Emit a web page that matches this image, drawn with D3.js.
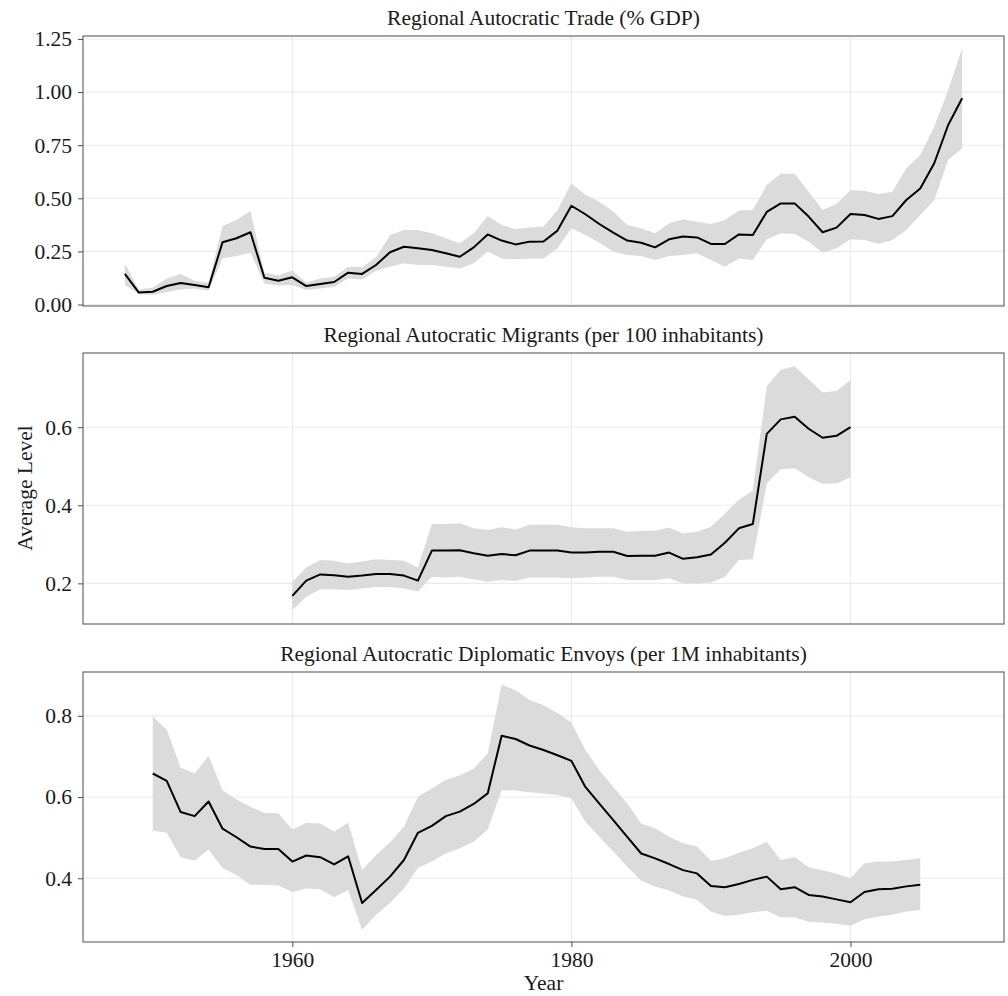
<!DOCTYPE html>
<html>
<head>
<meta charset="utf-8">
<script src="https://cdn.jsdelivr.net/npm/d3@7"></script>
<style>
  body { margin: 0; background: #fff; }
  svg text { font-family: "Liberation Serif", "Times New Roman", serif; fill: #1a1a1a; }
</style>
</head>
<body>
<svg id="chart" width="1008" height="996"></svg>
<script>
// trade (% GDP), 1948-2008
const tradeYears = d3.range(1948, 2009);
const tradeMean = [0.144,0.056,0.060,0.087,0.101,0.092,0.081,0.293,0.312,0.340,
  0.126,0.112,0.128,0.087,0.097,0.106,0.150,0.144,0.186,0.246,
  0.272,0.265,0.257,0.241,0.225,0.269,0.330,0.301,0.283,0.296,
  0.297,0.348,0.465,0.425,0.379,0.338,0.301,0.291,0.269,0.307,
  0.320,0.316,0.285,0.285,0.330,0.327,0.436,0.476,0.476,0.414,
  0.340,0.362,0.426,0.421,0.403,0.416,0.492,0.546,0.665,0.845,0.971];
const tradeLow = [0.092,0.050,0.045,0.059,0.071,0.075,0.065,0.217,0.228,0.244,
  0.098,0.090,0.092,0.068,0.075,0.084,0.123,0.118,0.159,0.178,
  0.194,0.186,0.186,0.178,0.170,0.194,0.249,0.217,0.213,0.217,
  0.217,0.265,0.359,0.327,0.291,0.249,0.233,0.228,0.210,0.228,
  0.233,0.241,0.210,0.178,0.217,0.210,0.307,0.335,0.332,0.296,
  0.244,0.265,0.307,0.304,0.285,0.304,0.351,0.421,0.492,0.680,0.736];
const tradeHigh = [0.194,0.071,0.080,0.123,0.144,0.112,0.103,0.370,0.398,0.440,
  0.150,0.137,0.160,0.103,0.122,0.131,0.178,0.175,0.222,0.327,
  0.351,0.351,0.335,0.312,0.288,0.335,0.417,0.374,0.354,0.362,
  0.367,0.445,0.571,0.516,0.484,0.437,0.374,0.359,0.335,0.382,
  0.401,0.390,0.379,0.398,0.442,0.445,0.563,0.615,0.615,0.531,
  0.445,0.473,0.539,0.534,0.520,0.531,0.641,0.704,0.837,1.010,1.206];

// migrants (per 100 inhabitants), 1960-2000
const migYears = d3.range(1960, 2001);
const migMean = [0.168,0.207,0.223,0.221,0.217,0.220,0.224,0.224,0.220,0.207,
  0.284,0.284,0.285,0.277,0.271,0.275,0.272,0.284,0.284,0.284,
  0.279,0.279,0.281,0.281,0.270,0.271,0.271,0.279,0.263,0.267,
  0.274,0.304,0.341,0.352,0.583,0.620,0.627,0.596,0.573,0.578,0.600];
const migLow = [0.132,0.166,0.185,0.185,0.183,0.187,0.191,0.191,0.187,0.179,
  0.217,0.215,0.217,0.210,0.204,0.209,0.206,0.215,0.215,0.215,
  0.213,0.215,0.217,0.217,0.209,0.209,0.209,0.213,0.200,0.200,
  0.202,0.217,0.260,0.262,0.456,0.492,0.495,0.472,0.455,0.456,0.472];
const migHigh = [0.204,0.241,0.260,0.258,0.251,0.256,0.262,0.260,0.258,0.241,
  0.352,0.352,0.354,0.341,0.337,0.344,0.338,0.350,0.350,0.350,
  0.344,0.341,0.341,0.341,0.332,0.334,0.335,0.343,0.328,0.332,
  0.345,0.379,0.414,0.438,0.704,0.747,0.756,0.723,0.689,0.693,0.720];

// diplomatic envoys (per 1M inhabitants), 1950-2005
const envYears = d3.range(1950, 2006);
const envMean = [0.658,0.640,0.563,0.553,0.589,0.522,0.501,0.478,0.472,0.472,
  0.441,0.456,0.452,0.434,0.454,0.339,0.371,0.404,0.445,0.512,
  0.529,0.553,0.564,0.583,0.609,0.751,0.743,0.727,0.716,0.703,
  0.689,0.625,0.584,0.543,0.502,0.461,0.449,0.435,0.420,0.412,
  0.381,0.378,0.386,0.396,0.404,0.373,0.378,0.359,0.355,0.348,
  0.341,0.366,0.373,0.374,0.380,0.384];
const envLow = [0.517,0.512,0.452,0.443,0.471,0.425,0.408,0.384,0.384,0.382,
  0.366,0.375,0.373,0.353,0.371,0.273,0.310,0.339,0.375,0.425,
  0.441,0.461,0.474,0.490,0.520,0.617,0.616,0.612,0.609,0.605,
  0.597,0.539,0.502,0.466,0.429,0.394,0.380,0.370,0.355,0.347,
  0.318,0.307,0.310,0.316,0.320,0.304,0.304,0.293,0.291,0.288,
  0.283,0.299,0.306,0.310,0.318,0.322];
const envHigh = [0.799,0.766,0.672,0.658,0.701,0.617,0.594,0.576,0.561,0.560,
  0.520,0.537,0.535,0.515,0.537,0.420,0.457,0.488,0.527,0.601,
  0.621,0.642,0.654,0.670,0.707,0.877,0.863,0.839,0.826,0.807,
  0.783,0.716,0.666,0.625,0.584,0.535,0.523,0.502,0.486,0.478,
  0.443,0.449,0.463,0.474,0.490,0.445,0.452,0.427,0.420,0.411,
  0.400,0.437,0.441,0.441,0.445,0.449];

const panelTitles = [
  "Regional Autocratic Trade (% GDP)",
  "Regional Autocratic Migrants (per 100 inhabitants)",
  "Regional Autocratic Diplomatic Envoys (per 1M inhabitants)"
];
const tradeTicks = [0, 0.25, 0.5, 0.75, 1, 1.25];
const migTicks = [0.2, 0.4, 0.6];
const envTicks = [0.4, 0.6, 0.8];
const yearTicks = [1960, 1980, 2000];

const panels = [
  { title: panelTitles[0], years: tradeYears, mean: tradeMean, low: tradeLow, high: tradeHigh,
    ticks: tradeTicks, fmt: d3.format(".2f"), domain: [-0.007, 1.264], top: 36, bottom: 306 },
  { title: panelTitles[1], years: migYears, mean: migMean, low: migLow, high: migHigh,
    ticks: migTicks, fmt: d3.format(".1f"), domain: [0.096, 0.79], top: 353, bottom: 624 },
  { title: panelTitles[2], years: envYears, mean: envMean, low: envLow, high: envHigh,
    ticks: envTicks, fmt: d3.format(".1f"), domain: [0.243, 0.908], top: 672, bottom: 942 }
];

const svg = d3.select("#chart");
const left = 83, right = 1004;
const fontSize = 21.5;

const x = d3.scaleLinear().domain([1945, 2011]).range([left, right]);

panels.forEach((p, i) => {
  const y = d3.scaleLinear().domain(p.domain).range([p.bottom, p.top]);
  const g = svg.append("g");
  const rows = p.years.map((yr, k) => ({ year: yr, mean: p.mean[k], low: p.low[k], high: p.high[k] }));

  // grid
  g.selectAll(".hgrid").data(p.ticks).enter().append("line")
    .attr("x1", left).attr("x2", right)
    .attr("y1", d => y(d)).attr("y2", d => y(d))
    .attr("stroke", "#ebebeb").attr("stroke-width", 1.1);
  g.selectAll(".vgrid").data(yearTicks).enter().append("line")
    .attr("x1", d => x(d)).attr("x2", d => x(d))
    .attr("y1", p.top).attr("y2", p.bottom)
    .attr("stroke", "#ebebeb").attr("stroke-width", 1.1);

  // ribbon + line
  g.append("path").datum(rows)
    .attr("d", d3.area().x(d => x(d.year)).y0(d => y(d.low)).y1(d => y(d.high)))
    .attr("fill", "#d9d9d9").attr("opacity", 0.95);
  g.append("path").datum(rows)
    .attr("d", d3.line().x(d => x(d.year)).y(d => y(d.mean)))
    .attr("fill", "none").attr("stroke", "#000").attr("stroke-width", 2)
    .attr("stroke-linejoin", "round");

  // border
  g.append("rect").attr("x", left).attr("y", p.top)
    .attr("width", right - left).attr("height", p.bottom - p.top)
    .attr("fill", "none").attr("stroke", "#4d4d4d").attr("stroke-width", 1);

  // y axis
  const yAxis = g.append("g").attr("transform", `translate(${left},0)`)
    .call(d3.axisLeft(y).tickValues(p.ticks).tickFormat(p.fmt).tickSize(5).tickPadding(6));
  yAxis.select(".domain").remove();
  yAxis.selectAll("line").attr("stroke", "#4d4d4d");
  yAxis.selectAll("text").attr("font-size", fontSize)
    .attr("font-family", "Liberation Serif").attr("fill", "#1a1a1a");

  // x axis only on the last panel
  if (i === panels.length - 1) {
    const xAxis = g.append("g").attr("transform", `translate(0,${p.bottom})`)
      .call(d3.axisBottom(x).tickValues(yearTicks).tickFormat(d3.format("d")).tickSize(5).tickPadding(5));
    xAxis.select(".domain").remove();
    xAxis.selectAll("line").attr("stroke", "#4d4d4d");
    xAxis.selectAll("text").attr("font-size", fontSize)
      .attr("font-family", "Liberation Serif").attr("fill", "#1a1a1a");
  }

  // panel title
  g.append("text")
    .attr("x", (left + right) / 2).attr("y", p.top - 11)
    .attr("text-anchor", "middle").attr("font-size", fontSize)
    .text(p.title);
});

// axis titles
svg.append("text")
  .attr("x", (left + right) / 2).attr("y", 990)
  .attr("text-anchor", "middle").attr("font-size", fontSize)
  .text("Year");
svg.append("text")
  .attr("transform", `translate(32,488) rotate(-90)`)
  .attr("text-anchor", "middle").attr("font-size", fontSize)
  .text("Average Level");
</script>
</body>
</html>
